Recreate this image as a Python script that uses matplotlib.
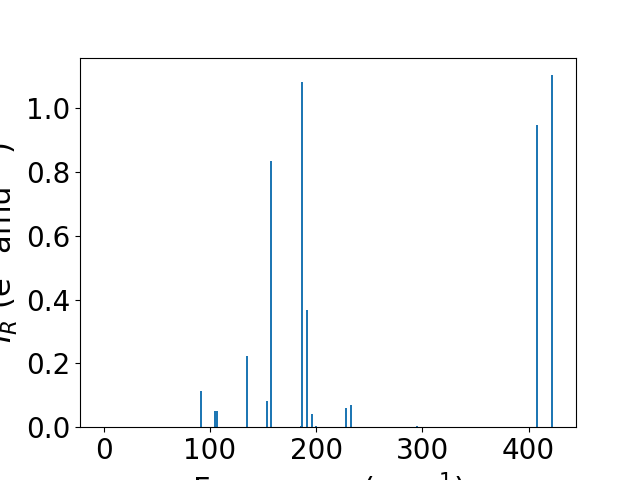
import matplotlib
matplotlib.use('Agg')
import matplotlib.pyplot as plt

plt.rcParams['font.size'] = 20

# Vibrational modes: frequency (cm^-1) and IR intensity
freqs = [0.0, 91.5, 105.2, 106.6, 134.6, 153.5, 157.2, 185.8, 186.5, 191.2,
         195.9, 200.0, 228.0, 232.7, 295.0, 408.2, 422.4]
intensities = [0.0, 0.113, 0.052, 0.052, 0.222, 0.081, 0.834, 0.003, 1.081, 0.367,
               0.041, 0.003, 0.060, 0.069, 0.005, 0.947, 1.103]

plt.bar(freqs, intensities, width=2)
plt.xlabel('Frequency (cm$^{-1}$)', fontsize=22)
plt.ylabel('$I_R$ (e$^2$ amu$^{-1}$)', fontsize=22)

plt.savefig('out.png')
